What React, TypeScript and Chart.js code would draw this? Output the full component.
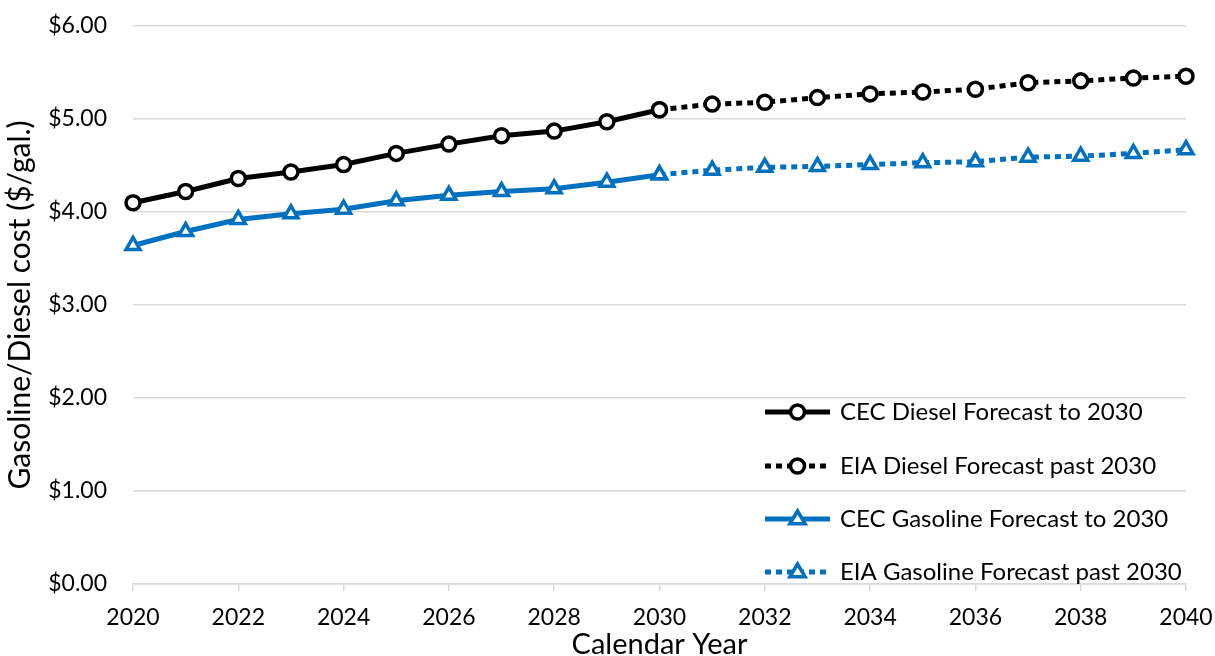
import React, { useEffect, useRef } from "react";
import { Chart, registerables } from "chart.js";

Chart.register(...registerables);

const yearsCEC = [2020, 2021, 2022, 2023, 2024, 2025, 2026, 2027, 2028, 2029, 2030];
const yearsEIA = [2030, 2031, 2032, 2033, 2034, 2035, 2036, 2037, 2038, 2039, 2040];
const dieselCEC = [4.10, 4.22, 4.36, 4.43, 4.51, 4.63, 4.73, 4.82, 4.87, 4.97, 5.10];
const dieselEIA = [5.10, 5.16, 5.18, 5.23, 5.27, 5.29, 5.32, 5.39, 5.41, 5.44, 5.46];
const gasolineCEC = [3.64, 3.79, 3.92, 3.98, 4.03, 4.12, 4.18, 4.22, 4.25, 4.32, 4.40];
const gasolineEIA = [4.40, 4.45, 4.48, 4.49, 4.51, 4.53, 4.54, 4.59, 4.60, 4.63, 4.67];
const seriesNames = [
  "CEC Diesel Forecast to 2030",
  "EIA Diesel Forecast past 2030",
  "CEC Gasoline Forecast to 2030",
  "EIA Gasoline Forecast past 2030",
];
const yTitle = "Gasoline/Diesel cost ($/gal.)";
const xTitle = "Calendar Year";

const FONT = "Lato, 'Open Sans', sans-serif";
const BLUE = "#0070C0";
const BLACK = "#000000";
const DASH = [6, 5];

const zip = (xs: number[], ys: number[]) => xs.map((x, i) => ({ x, y: ys[i] }));

const legendPlugin = {
  id: "insideLegend",
  afterDraw(chart: any) {
    const { ctx, chartArea } = chart;
    const x0 = chartArea.right - 421;
    const x1 = chartArea.right - 356;
    const xm = (x0 + x1) / 2;
    const tx = chartArea.right - 346;
    const rows = [412, 466, 519, 572].map((v) => chartArea.top + (v - 26));
    chart.data.datasets.forEach((ds: any, i: number) => {
      const y = rows[i];
      ctx.save();
      ctx.strokeStyle = ds.borderColor;
      ctx.lineWidth = ds.borderWidth;
      ctx.setLineDash(ds.borderDash || []);
      ctx.beginPath();
      ctx.moveTo(x0, y);
      ctx.lineTo(x1, y);
      ctx.stroke();
      ctx.setLineDash([]);
      ctx.fillStyle = ds.pointBackgroundColor;
      ctx.strokeStyle = ds.pointBorderColor;
      ctx.lineWidth = ds.pointBorderWidth;
      ctx.beginPath();
      if (ds.pointStyle === "triangle") {
        const r = ds.pointRadius;
        ctx.moveTo(xm, y - r);
        ctx.lineTo(xm + r * 0.95, y + r * 0.6);
        ctx.lineTo(xm - r * 0.95, y + r * 0.6);
        ctx.closePath();
      } else {
        ctx.arc(xm, y, ds.pointRadius, 0, Math.PI * 2);
      }
      ctx.fill();
      ctx.stroke();
      ctx.fillStyle = "#000";
      ctx.font = `24px ${FONT}`;
      ctx.textAlign = "left";
      ctx.textBaseline = "middle";
      ctx.fillText(ds.label, tx, y);
      ctx.restore();
    });
  },
};

export default function App() {
  const ref = useRef<HTMLCanvasElement>(null);
  useEffect(() => {
    const common = {
      borderWidth: 5,
      pointRadius: 7,
      pointBorderWidth: 3.5,
      pointBackgroundColor: "#ffffff",
      fill: false,
      tension: 0,
      clip: false,
    };
    const chart = new Chart(ref.current!, {
      type: "line",
      data: {
        datasets: [
          {
            ...common,
            label: seriesNames[0],
            data: zip(yearsCEC, dieselCEC),
            borderColor: BLACK,
            pointBorderColor: BLACK,
            pointStyle: "circle",
          },
          {
            ...common,
            label: seriesNames[1],
            data: zip(yearsEIA, dieselEIA),
            borderColor: BLACK,
            pointBorderColor: BLACK,
            borderDash: DASH,
            pointStyle: "circle",
          },
          {
            ...common,
            label: seriesNames[2],
            data: zip(yearsCEC, gasolineCEC),
            borderColor: BLUE,
            pointBorderColor: BLUE,
            pointStyle: "triangle",
            pointRadius: 8,
          },
          {
            ...common,
            label: seriesNames[3],
            data: zip(yearsEIA, gasolineEIA),
            borderColor: BLUE,
            pointBorderColor: BLUE,
            borderDash: DASH,
            pointStyle: "triangle",
            pointRadius: 8,
          },
        ] as any,
      },
      options: {
        animation: false,
        responsive: false,
        maintainAspectRatio: false,
        layout: { padding: { left: 2, right: 29, top: 26, bottom: 0 } },
        plugins: {
          legend: { display: false },
          tooltip: { enabled: false },
        },
        scales: {
          x: {
            type: "linear",
            min: 2020,
            max: 2040,
            afterFit: (s: any) => {
              s.height = 72;
              s.paddingLeft = 0;
              s.paddingRight = 0;
            },
            ticks: {
              stepSize: 2,
              color: "#000",
              font: { family: FONT, size: 23 },
              padding: 13,
              maxRotation: 0,
              callback: (v: any) => String(v),
            },
            grid: {
              drawOnChartArea: false,
              drawTicks: true,
              tickLength: 7,
              color: "#d9d9d9",
              lineWidth: 1.5,
            },
            border: { display: true, color: "#d9d9d9", width: 1.5 },
            title: {
              display: true,
              text: xTitle,
              color: "#000",
              font: { family: FONT, size: 29 },
              padding: { top: 0, bottom: -6 },
            },
          },
          y: {
            min: 0,
            max: 6,
            afterFit: (s: any) => {
              s.width = 131;
              s.paddingTop = 0;
              s.paddingBottom = 0;
            },
            ticks: {
              stepSize: 1,
              color: "#000",
              font: { family: FONT, size: 23 },
              padding: 26,
              callback: (v: any) => "$" + Number(v).toFixed(2),
            },
            grid: {
              drawTicks: false,
              color: "#d9d9d9",
              lineWidth: 1.5,
            },
            border: { display: false },
            title: {
              display: true,
              text: yTitle,
              color: "#000",
              font: { family: FONT, size: 30 },
              padding: { top: 0, bottom: 0 },
            },
          },
        },
      },
      plugins: [legendPlugin],
    });
    return () => chart.destroy();
  }, []);
  return (
    <div style={{ position: "fixed", left: 0, top: 0, width: 1215, height: 656, background: "#fff" }}>
      <canvas ref={ref} width={1215} height={656} style={{ width: 1215, height: 656, display: "block" }} />
    </div>
  );
}
